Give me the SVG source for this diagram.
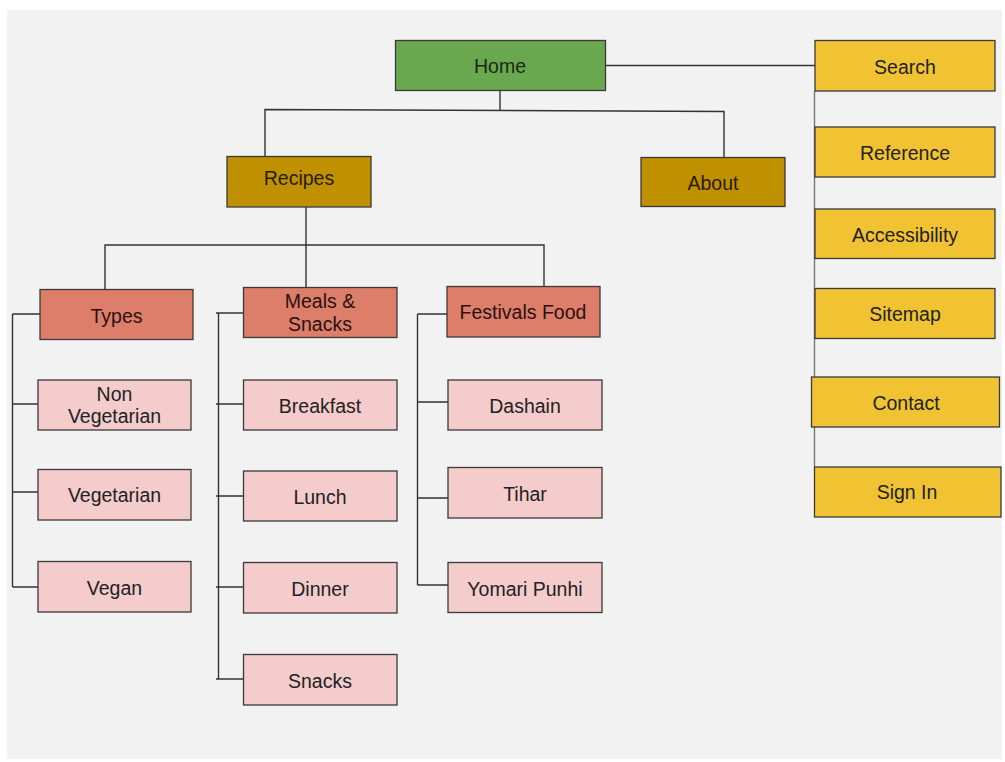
<svg xmlns="http://www.w3.org/2000/svg" width="1005" height="762" viewBox="0 0 1005 762">
<style>
.n rect{stroke:#3a3a3a;stroke-width:1.3}
.n text{font-family:"Liberation Sans",Arial,sans-serif;font-size:19.5px;fill:#222;text-anchor:middle;dominant-baseline:central}
.home rect{fill:#6aa84f}
.home text{fill:#1b2a12}
.sec rect{fill:#bf9000}
.sec text{fill:#2a1c05}
.cat rect{fill:#dd7e6b}
.cat text{fill:#2a1210}
.leaf rect{fill:#f4cccc}
.util rect{fill:#f1c232}
#connectors path{fill:none;stroke:#333;stroke-width:1.4}
</style>
<rect x="0" y="0" width="1005" height="762" fill="#ffffff"/>
<rect x="7" y="10" width="995" height="749" fill="#f2f2f2"/>
<g id="connectors">
<path d="M605 65.5H815"/>
<path d="M500 90.5V110"/>
<path d="M265 156V109.5L724 111.5V157"/>
<path d="M306 207V245"/>
<path d="M105 289V245H544V286"/>
<path d="M306 245V287"/>
<path d="M12.5 314V587M12.5 314H40M12.5 404H38M12.5 492H38M12.5 587H38"/>
<path d="M218.5 313V679M216 313H243M216 404H243M216 496H243M216 587H243M216 679H243"/>
<path d="M417.5 314V585M417.5 314H447M417.5 402H448M417.5 498H448M417.5 585H448"/>
<path d="M814.5 91V467" style="stroke:#777"/>
</g>
<g id="home" class="n home"><rect x="395.5" y="40.5" width="210" height="50"/><text x="500" y="66">Home</text></g>
<g id="recipes" class="n sec"><rect x="227" y="156.5" width="144" height="50.5"/><text x="299" y="178">Recipes</text></g>
<g id="about" class="n sec"><rect x="641" y="157.5" width="144" height="49"/><text x="713" y="183">About</text></g>
<g id="types" class="n cat"><rect x="40" y="289.5" width="153" height="50"/><text x="116.5" y="316">Types</text></g>
<g id="meals" class="n cat"><rect x="243.5" y="287.5" width="153.5" height="50"/><text x="320" y="301">Meals &amp;</text><text x="320" y="324">Snacks</text></g>
<g id="festivals" class="n cat"><rect x="447" y="286.5" width="153" height="50.5"/><text x="523" y="312">Festivals Food</text></g>
<g id="nonveg" class="n leaf"><rect x="38" y="380" width="153" height="50"/><text x="114.5" y="394">Non</text><text x="114.5" y="416">Vegetarian</text></g>
<g id="veg" class="n leaf"><rect x="38" y="469.5" width="153" height="50.5"/><text x="114.5" y="495">Vegetarian</text></g>
<g id="vegan" class="n leaf"><rect x="38" y="561.5" width="153" height="50.5"/><text x="114.5" y="588">Vegan</text></g>
<g id="breakfast" class="n leaf"><rect x="243.5" y="380" width="153.5" height="50"/><text x="320" y="406">Breakfast</text></g>
<g id="lunch" class="n leaf"><rect x="243.5" y="471" width="153.5" height="50"/><text x="320" y="497">Lunch</text></g>
<g id="dinner" class="n leaf"><rect x="243.5" y="562.5" width="153.5" height="50.5"/><text x="320" y="589">Dinner</text></g>
<g id="snacks" class="n leaf"><rect x="243.5" y="654.5" width="153.5" height="50.5"/><text x="320" y="681">Snacks</text></g>
<g id="dashain" class="n leaf"><rect x="448" y="380" width="154" height="50"/><text x="525" y="406">Dashain</text></g>
<g id="tihar" class="n leaf"><rect x="448" y="467.5" width="154" height="50.5"/><text x="525" y="494">Tihar</text></g>
<g id="yomari" class="n leaf"><rect x="448" y="562.5" width="154" height="50"/><text x="525" y="589">Yomari Punhi</text></g>
<g id="search" class="n util"><rect x="815" y="40.5" width="180" height="50.5"/><text x="905" y="67">Search</text></g>
<g id="reference" class="n util"><rect x="815" y="127" width="180" height="50"/><text x="905" y="153">Reference</text></g>
<g id="accessibility" class="n util"><rect x="815" y="209" width="180" height="49.5"/><text x="905" y="235">Accessibility</text></g>
<g id="sitemap" class="n util"><rect x="815" y="288.5" width="180" height="50"/><text x="905" y="314">Sitemap</text></g>
<g id="contact" class="n util"><rect x="811.5" y="377" width="188" height="50"/><text x="906" y="403">Contact</text></g>
<g id="signin" class="n util"><rect x="814.5" y="467" width="186.5" height="50"/><text x="907" y="492">Sign In</text></g>
</svg>
